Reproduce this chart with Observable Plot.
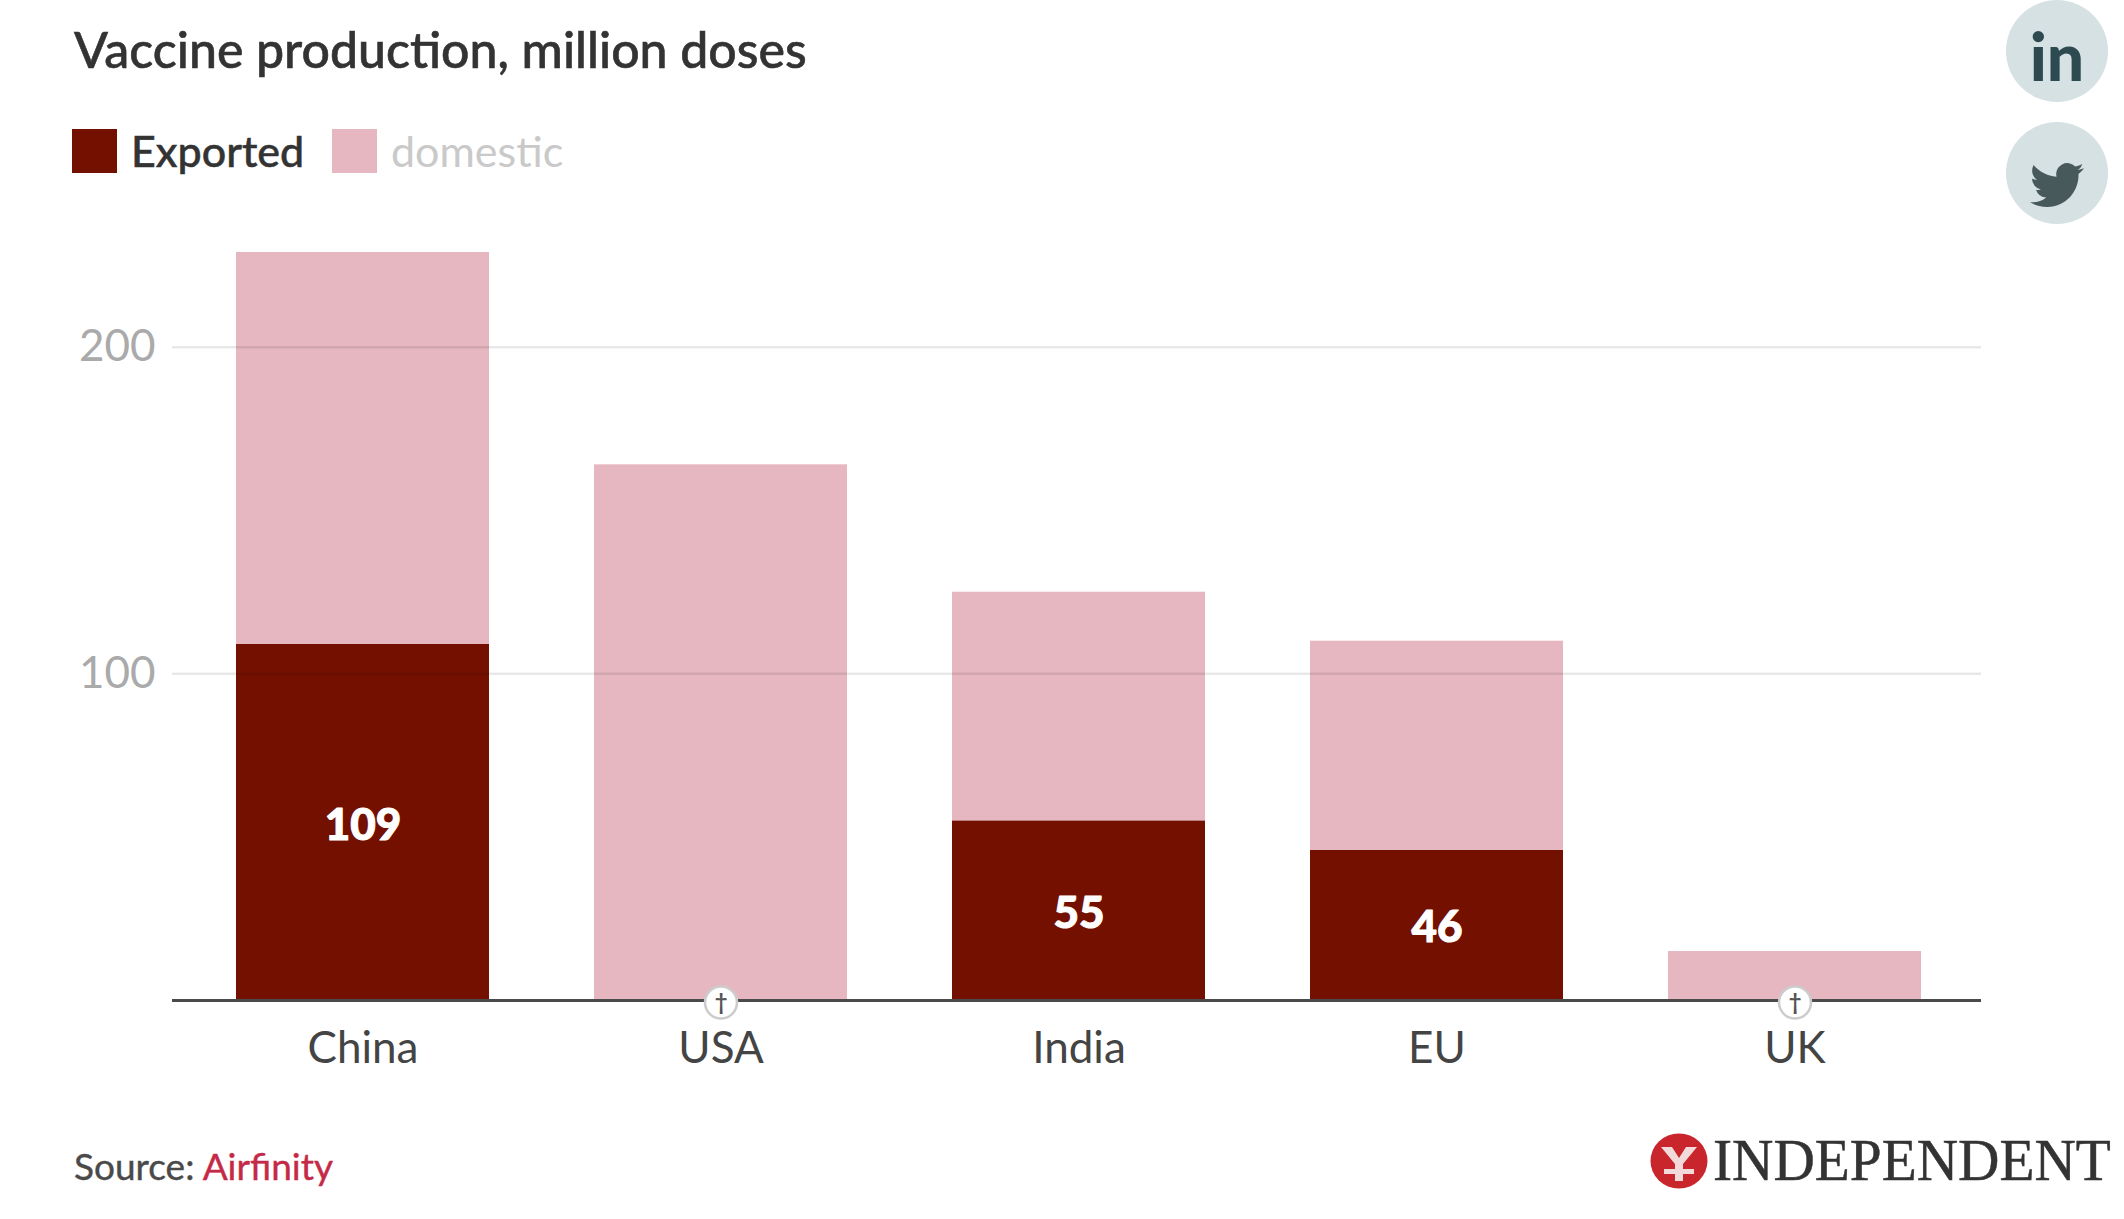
<!DOCTYPE html>
<html>
<head>
<meta charset="utf-8">
<script src="https://cdn.jsdelivr.net/npm/d3@7"></script>
<script src="https://cdn.jsdelivr.net/npm/@observablehq/plot@0.6"></script>
<style>
  html, body { margin: 0; padding: 0; background: #fff; }
  body { width: 2124px; height: 1219px; overflow: hidden; font-family: Lato, sans-serif; position: relative; }
  #header { position: relative; height: 220px; }
  #footer { position: relative; height: 119px; }
  #chart svg { display: block; }
  .abs { position: absolute; white-space: nowrap; line-height: 1; }
  #title { left: 74px; top: 24px; font-size: 50px; font-weight: 500; color: #333; -webkit-text-stroke: 0.6px #333; }
  .swatch { position: absolute; top: 129px; width: 45px; height: 44px; }
  .leg { position: absolute; top: 129px; font-size: 43px; line-height: 1; white-space: nowrap; }
  .social { position: absolute; left: 2006px; width: 102px; height: 102px; border-radius: 50%; background: #d6e1e3; }
  #source { left: 74px; top: 47px; font-size: 37px; color: #4a4a4a; -webkit-text-stroke: 0.4px #4a4a4a; }
  #source span { color: #c42a48; -webkit-text-stroke: 0.4px #c42a48; }
</style>
</head>
<body>
<div id="header">
  <div id="title" class="abs">Vaccine production, million doses</div>
  <div id="legend"></div>
  <div class="social" style="top:0">
    <div class="abs" style="left:0;width:102px;text-align:center;top:23px;font-size:66px;font-weight:900;color:#2c4a50;font-family:Lato">in</div>
  </div>
  <div class="social" style="top:122px">
    <svg style="position:absolute;left:24px;top:36px" width="54" height="54" viewBox="0 0 24 24"><path fill="#47595a" d="M23.95 4.57a10 10 0 0 1-2.82.78 4.96 4.96 0 0 0 2.16-2.72c-.95.55-2 .96-3.13 1.19a4.92 4.92 0 0 0-8.38 4.48C7.69 8.1 4.07 6.13 1.64 3.16a4.82 4.82 0 0 0-.67 2.48c0 1.71.87 3.21 2.19 4.1a4.9 4.9 0 0 1-2.23-.62v.06a4.92 4.92 0 0 0 3.95 4.83 5 5 0 0 1-2.21.08 4.94 4.94 0 0 0 4.6 3.42A9.87 9.87 0 0 1 0 19.54a14 14 0 0 0 7.56 2.21c9.05 0 14-7.5 14-13.98 0-.21 0-.42-.02-.63a9.94 9.94 0 0 0 2.46-2.55z"/></svg>
  </div>
</div>
<div id="chart"></div>
<div id="footer">
  <div id="source" class="abs">Source: <span>Airfinity</span></div>
  <svg style="position:absolute;left:1650px;top:33px" width="58" height="56" viewBox="0 0 58 56">
    <ellipse cx="29" cy="28" rx="28.5" ry="27.5" fill="#c9252c"/>
    <path d="M11 14 L22 14 L29 25 L36 14 L47 14 L33 31 L33 36 L44 36 L44 41 L33 41 L33 48 L25 48 L25 41 L14 41 L14 36 L25 36 L25 31 Z" fill="#f3dada"/>
  </svg>
  <div class="abs" style="left:1713px;top:30px;font-family:'Liberation Serif',serif;font-size:60px;color:#333;-webkit-text-stroke:0.5px #333;transform-origin:left center;transform:scaleX(0.955)">INDEPENDENT</div>
</div>
<script>
const countries = ["China", "USA", "India", "EU", "UK"];
const exported = [109, 0, 55, 46, 0];
const domestic = [120, 164, 70, 64, 15];
const seriesNames = ["Exported", "domestic"];
const seriesColors = ["#741000", "#e6b7c0"];
const yTicks = [100, 200];

const table = countries.flatMap((c, i) => [
  {country: c, series: seriesNames[0], value: exported[i]},
  {country: c, series: seriesNames[1], value: domestic[i]}
]);
const exportedLabels = countries
  .map((c, i) => ({country: c, value: exported[i]}))
  .filter(d => d.value > 0);
const notes = countries.filter((c, i) => exported[i] === 0);

// legend
const legend = document.getElementById("legend");
[{sx: 72, tx: 131, tc: "#333", w: 500, st: "0.5px #333"}, {sx: 332, tx: 391, tc: "#c9c9c9", w: 400, st: "0"}].forEach((p, i) => {
  const s = document.createElement("div");
  s.className = "swatch";
  s.style.left = p.sx + "px";
  s.style.background = seriesColors[i];
  legend.appendChild(s);
  const t = document.createElement("div");
  t.className = "leg";
  t.style.left = p.tx + "px";
  t.style.color = p.tc;
  t.style.fontWeight = p.w;
  t.style.webkitTextStroke = p.st;
  t.textContent = seriesNames[i];
  legend.appendChild(t);
});

const plot = Plot.plot({
  width: 2124,
  height: 880,
  marginLeft: 172,
  marginRight: 143,
  marginTop: 32,
  marginBottom: 100,
  style: {fontFamily: "Lato, sans-serif", background: "#fff", overflow: "visible"},
  x: {domain: countries, range: [181, 1975.5], paddingInner: 0.293, paddingOuter: 0.1465, align: 0.5, label: null},
  y: {domain: [0, 229], label: null},
  color: {domain: seriesNames, range: seriesColors},
  marks: [
    Plot.barY(table, {x: "country", y: "value", fill: "series", order: seriesNames}),
    Plot.ruleY(yTicks, {stroke: "#000", strokeOpacity: 0.09, strokeWidth: 2.5}),
    Plot.ruleY([0], {stroke: "#4a4a4a", strokeWidth: 3}),
    Plot.axisY({ticks: yTicks, tickSize: 0, tickPadding: 17, fontSize: 44, fill: "#aaa", label: null}),
    Plot.axisX({tickSize: 0, tickPadding: 31, fontSize: 44, fill: "#444", stroke: "#444", strokeWidth: 0.4, label: null}),
    Plot.text(exportedLabels, {x: "country", y: d => d.value / 2, dy: 3, text: d => String(d.value), fill: "#fff", stroke: "#fff", strokeWidth: 1, fontSize: 44, fontWeight: 900}),
    Plot.dot(notes, {x: d => d, y: () => 0, dy: 2, r: 16, fill: "#fff", stroke: "#ccc", strokeWidth: 2.5}),
    Plot.text(notes, {x: d => d, y: () => 0, dy: 2, text: () => "†", fill: "#555", fontSize: 22, fontWeight: 700})
  ]
});
document.getElementById("chart").appendChild(plot);
</script>
</body>
</html>
